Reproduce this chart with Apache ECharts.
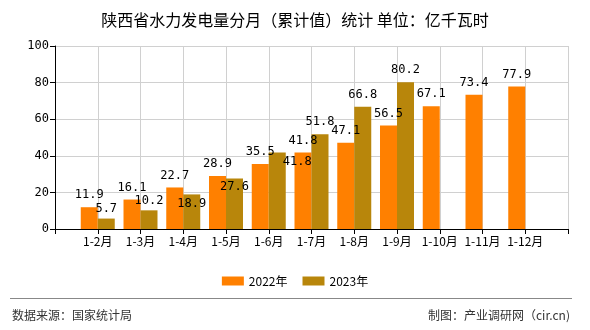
<!DOCTYPE html>
<html><head><meta charset="utf-8">
<script src="https://cdn.jsdelivr.net/npm/echarts@6/dist/echarts.min.js"></script>
<style>html,body{margin:0;padding:0;background:#fff}#c{width:590px;height:330px}</style>
</head><body><div id="c"></div>
<script>
var categories = ['', '1-2月', '1-3月', '1-4月', '1-5月', '1-6月', '1-7月', '1-8月', '1-9月', '1-10月', '1-11月', '1-12月', ''];
var values2022 = [null, 11.9, 16.1, 22.7, 28.9, 35.5, 41.8, 47.1, 56.5, 67.1, 73.4, 77.9, null];
var values2023 = [null, 5.7, 10.2, 18.9, 27.6, 41.8, 51.8, 66.8, 80.2, null, null, null, null];
var yTicks = [0, 20, 40, 60, 80, 100];

// label nudges for the 2023 series (avoid overlaps as in the reference)
var nudge2023 = {1: [0, 2], 2: [0, 3], 3: [0, 21], 4: [0, 20], 5: [20, 21]};

var chart = echarts.init(document.getElementById('c'));
var lblFont = '"DejaVu Sans Mono", "Liberation Mono", monospace';
var data2023 = values2023.map(function (v, i) {
  var item = {value: v};
  if (i !== 5) { item.labelLine = {show: false}; }
  return item;
});
chart.setOption({
  animation: false,
  title: {
    text: '陕西省水力发电量分月（累计值）统计 单位：亿千瓦时',
    left: 'center', top: 7,
    textStyle: {fontFamily: '"Noto Sans CJK SC"', fontSize: 16, fontWeight: 'normal', color: '#000'}
  },
  legend: {
    top: 270, left: 'center', itemWidth: 22, itemHeight: 9, itemGap: 15,
    icon: 'rect',
    textStyle: {fontFamily: '"Noto Sans CJK SC"', fontSize: 12, color: '#000'},
    data: ['2022年', '2023年']
  },
  grid: {left: 55, right: 22, top: 46, bottom: 101},
  xAxis: {
    type: 'category', data: categories, boundaryGap: false,
    axisLine: {lineStyle: {color: '#000'}},
    axisTick: {show: true, length: 5, lineStyle: {color: '#000'}},
    splitLine: {show: true, lineStyle: {color: '#d0d0d0'}},
    axisLabel: {interval: 0, color: '#000', fontSize: 12, margin: 6, fontFamily: '"Noto Sans CJK SC"'}
  },
  yAxis: {
    type: 'value', min: yTicks[0], max: yTicks[yTicks.length - 1], interval: 20,
    axisLine: {show: true, lineStyle: {color: '#000'}},
    axisTick: {show: true, length: 5, lineStyle: {color: '#000'}},
    splitLine: {show: true, lineStyle: {color: '#d0d0d0'}},
    axisLabel: {color: '#000', fontSize: 12, margin: 6, fontFamily: lblFont}
  },
  graphic: [
    {type: 'line', shape: {x1: 10, y1: 298.5, x2: 572, y2: 298.5}, style: {stroke: '#888', lineWidth: 1}},
    {type: 'text', left: 12, top: 309, style: {text: '数据来源：国家统计局', font: '12px "Noto Sans CJK SC"', fill: '#333'}},
    {type: 'text', right: 20, top: 309, style: {text: '制图：产业调研网（cir.cn)', font: '12px "Noto Sans CJK SC"', fill: '#333'}}
  ],
  series: [
    {
      name: '2022年', type: 'bar', data: values2022, barWidth: 17, barGap: '0%',
      itemStyle: {color: '#FF8000'},
      label: {show: true, position: 'top', color: '#000', fontSize: 12, fontFamily: lblFont, distance: 6}
    },
    {
      name: '2023年', type: 'bar', data: data2023, barWidth: 17,
      itemStyle: {color: '#B8860B'},
      label: {show: true, position: 'top', color: '#000', fontSize: 12, fontFamily: lblFont, distance: 6},
      labelLine: {show: true, lineStyle: {color: '#000', width: 1}},
      labelLayout: function (p) {
        var n = nudge2023[p.dataIndex];
        if (n) { return {dx: n[0], dy: n[1]}; }
        return {};
      }
    }
  ]
});
</script></body></html>
